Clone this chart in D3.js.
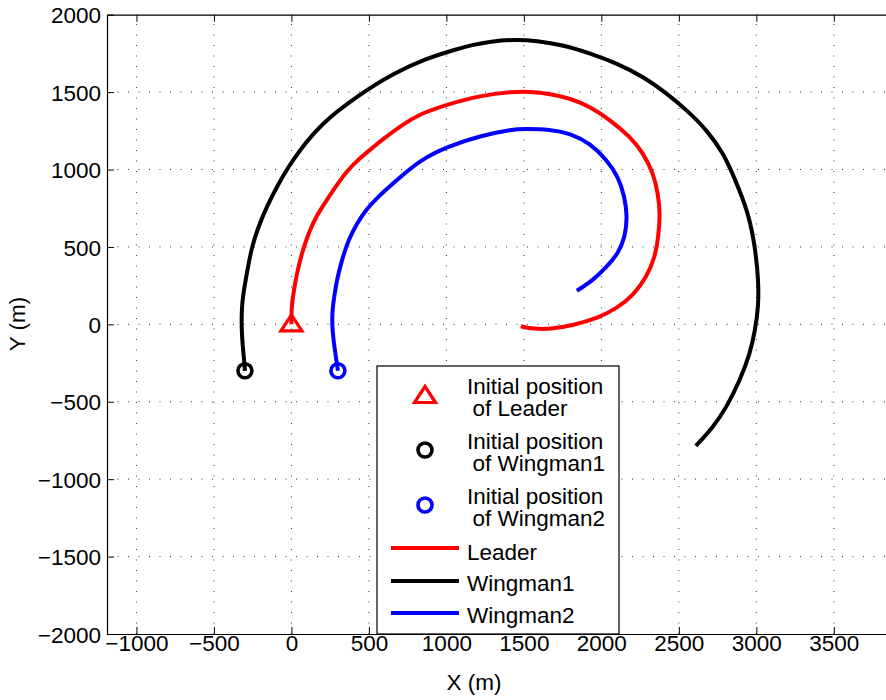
<!DOCTYPE html>
<html><head><meta charset="utf-8">
<script src="https://cdn.jsdelivr.net/npm/d3@7"></script>
<style>
body{margin:0;background:#fff;}
svg{display:block;font-family:"Liberation Sans",Arial,Helvetica,sans-serif;}
</style></head>
<body>
<svg id="chart" width="886" height="700"></svg>
<script>
// ---- data (metres) ----
const leaderX = [0,0,3,9,35,67,110,164,228,293,357,443,529,590,701,830,1003,1218,1432,1540,1669,1799,1928,2057,2186,2271,2336,2365,2380,2368,2347,2293,2207,2100,1971,1820,1669,1562,1480];
const leaderY = [0,60,120,178,329,459,588,706,803,900,990,1075,1145,1195,1280,1360,1420,1478,1503,1503,1488,1460,1406,1320,1212,1105,975,846,717,566,437,307,189,103,39,-5,-32,-30,-12];
const wing1X = [-300,-303,-318,-322,-320,-314,-288,-256,-213,-159,-94,-19,56,142,250,379,480,658,874,1045,1180,1282,1433,1583,1755,1928,2100,2271,2422,2551,2681,2788,2865,2950,2992,3014,3014,2992,2960,2895,2810,2723,2610];
const wing1Y = [-300,-252,-101,0,100,178,329,501,631,760,889,1018,1126,1234,1341,1438,1510,1621,1718,1772,1808,1826,1841,1832,1804,1751,1686,1600,1492,1384,1255,1105,932,717,501,286,114,-37,-187,-360,-532,-662,-785];
const wing2X = [300,293,271,262,265,276,293,325,368,422,486,551,610,701,830,1003,1218,1432,1500,1669,1799,1928,2035,2110,2150,2168,2153,2110,2035,1949,1842];
const wing2Y = [-300,-252,-101,0,100,178,286,415,545,652,745,815,870,950,1060,1147,1218,1260,1262,1260,1234,1169,1061,953,824,695,566,459,372,286,217];
const xTicks = [-1000,-500,0,500,1000,1500,2000,2500,3000,3500];
const yTicks = [-2000,-1500,-1000,-500,0,500,1000,1500,2000];
const seriesNames = ["Leader","Wingman1","Wingman2"];
const seriesColors = ["#ff0000","#000000","#0000ff"];
const startNames = [["Initial position","of Leader"],["Initial position","of Wingman1"],["Initial position","of Wingman2"]];

// ---- layout ----
const svg = d3.select("#chart");
const L = 107, T = 14.7, B = 634;
const pxPerUnit = 0.15497;
const xMin = -1190, xMax = 3900;
const x = d3.scaleLinear().domain([xMin, xMax]).range([L, L + (xMax - xMin) * pxPerUnit]);
const y = d3.scaleLinear().domain([-2000, 2000]).range([B, T]);
const R = x(xMax);
const font = "22.5px";

// grid
const grid = svg.append("g").attr("stroke","#333").attr("stroke-width",1).attr("stroke-dasharray","1,9.5");
grid.selectAll("line.v").data(xTicks).join("line")
  .attr("x1",d=>x(d)).attr("x2",d=>x(d)).attr("y1",B).attr("y2",T);
grid.selectAll("line.h").data(yTicks.filter(d=>d>-2000&&d<2000)).join("line").attr("class","h")
  .attr("x1",L).attr("x2",R).attr("y1",d=>y(d)).attr("y2",d=>y(d));

// axes via d3 axis, ticks inward
const fmt = d => d3.format("d")(d).replace("-", "\u2212");
const xAxis = svg.append("g").attr("transform",`translate(0,${B})`)
  .call(d3.axisBottom(x).tickValues(xTicks).tickSizeInner(-7).tickSizeOuter(0).tickPadding(14).tickFormat(fmt));
const xAxisTop = svg.append("g").attr("transform",`translate(0,${T})`)
  .call(d3.axisTop(x).tickValues(xTicks).tickSizeInner(-7).tickSizeOuter(0).tickFormat(""));
const yAxis = svg.append("g").attr("transform",`translate(${L},0)`)
  .call(d3.axisLeft(y).tickValues(yTicks).tickSizeInner(-7).tickSizeOuter(0).tickPadding(6).tickFormat(fmt));
[xAxis,xAxisTop,yAxis].forEach(g=>{
  g.select(".domain").attr("stroke","#000").attr("stroke-width",1.2);
  g.selectAll(".tick line").attr("stroke","#000").attr("stroke-width",1);
  g.selectAll("text").attr("fill","#000").style("font-size",font).attr("font-family",null);
});
xAxis.selectAll("text").attr("dy","0.15em");
yAxis.selectAll("text").attr("dy","0.36em");

// series lines
const line = d3.line().x(d=>x(d[0])).y(d=>y(d[1])).curve(d3.curveBasis);
const seriesData = [
  d3.zip(leaderX, leaderY),
  d3.zip(wing1X, wing1Y),
  d3.zip(wing2X, wing2Y)
];
const plot = svg.append("g");
plot.selectAll("path.s").data(seriesData).join("path").attr("class","s")
  .attr("d",line).attr("fill","none")
  .attr("stroke",(d,i)=>seriesColors[i]).attr("stroke-width",4)
  .attr("stroke-linejoin","round");

// markers at initial positions
const triPath = "M0,-8.5L10.5,7.5L-10.5,7.5Z";
function marker(g, i, cx, cy){
  if(i===0){
    g.append("path").attr("d",triPath).attr("transform",`translate(${cx},${cy})`)
      .attr("fill","none").attr("stroke",seriesColors[0]).attr("stroke-width",3.2).attr("stroke-linejoin","miter");
  } else {
    g.append("circle").attr("cx",cx).attr("cy",cy).attr("r",7)
      .attr("fill","none").attr("stroke",seriesColors[i]).attr("stroke-width",3.6);
  }
}
seriesData.forEach((s,i)=>marker(plot,i,x(s[0][0]),y(s[0][1]) - (i===0?1:0)));

// legend
const lg = svg.append("g");
lg.append("rect").attr("x",377).attr("y",366).attr("width",242).attr("height",268)
  .attr("fill","#fff").attr("stroke","#000").attr("stroke-width",1.2);
const startRows = [395, 450, 505];
const startBase = [394.3, 449.3, 504.3];
startNames.forEach((nm,i)=>{
  marker(lg,i,425,startRows[i]);
  lg.append("text").attr("x",467).attr("y",startBase[i]).attr("fill","#000").style("font-size",font).text(nm[0]);
  lg.append("text").attr("x",472.5).attr("y",startBase[i]+21.6).attr("fill","#000").style("font-size",font).text(nm[1]);
});
const lineRows = [548, 581, 613];
const lineBase = [560, 591, 623];
seriesNames.forEach((nm,i)=>{
  lg.append("line").attr("x1",391).attr("x2",459).attr("y1",lineRows[i]).attr("y2",lineRows[i])
    .attr("stroke",seriesColors[i]).attr("stroke-width",4);
  lg.append("text").attr("x",467).attr("y",lineBase[i]).attr("fill","#000").style("font-size",font).text(nm);
});

// axis titles
svg.append("text").attr("x",474).attr("y",690).attr("text-anchor","middle").style("font-size",font).text("X (m)");
svg.append("text").attr("transform","translate(25,324) rotate(-90)").attr("text-anchor","middle").style("font-size",font).text("Y (m)");
</script>
</body></html>
